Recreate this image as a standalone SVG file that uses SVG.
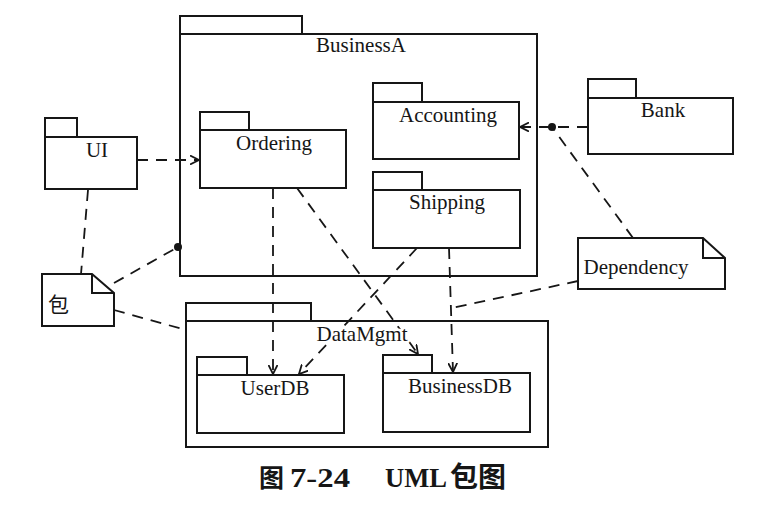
<svg xmlns="http://www.w3.org/2000/svg" width="780" height="518" viewBox="0 0 780 518">
<style>
.pk{fill:none;stroke:#161616;stroke-width:2}
.nt{fill:#fff;stroke:#161616;stroke-width:2;stroke-linejoin:miter}
.fold{fill:none;stroke:#161616;stroke-width:2}
.dash{fill:none;stroke:#161616;stroke-width:1.8;stroke-dasharray:11 8}
.ah{fill:none;stroke:#161616;stroke-width:1.8;stroke-dasharray:none}
.lb{font-family:"Liberation Serif","Times New Roman",serif;font-size:21px;text-anchor:middle;fill:#161616;stroke:#fff;stroke-width:5px;stroke-linejoin:round;paint-order:stroke}
.cj{font-family:"Liberation Serif","Noto Sans CJK SC",serif;fill:#161616}
</style>
<defs>
<marker id="open" markerUnits="userSpaceOnUse" viewBox="0 0 9 10" refX="9" refY="5" markerWidth="9" markerHeight="10" orient="auto">
<path class="ah" d="M0,0.5 L9,5 L0,9.5"/>
</marker>
</defs>
<rect width="780" height="518" fill="#fff"/>

<g id="connectors">
<path class="dash" d="M137,160 H199" marker-end="url(#open)"/>
<path class="dash" d="M273,188 V374" marker-end="url(#open)"/>
<path class="dash" d="M297,188 L418,354" marker-end="url(#open)"/>
<path class="dash" d="M417,248 L299,374" marker-end="url(#open)"/>
<path class="dash" d="M449,248 L453,372" marker-end="url(#open)"/>
<path class="dash" d="M588,127 H520" marker-end="url(#open)"/>
<path class="dash" d="M88,190 L81,274"/>
<path class="dash" d="M114,283 L178,247"/>
<circle cx="178" cy="247" r="4" fill="#161616"/>
<path class="dash" d="M114,310 L186,330"/>
<path class="dash" d="M633,238 L552,127"/>
<circle cx="552" cy="127" r="4" fill="#161616"/>
<path class="dash" d="M578,281 L452,308"/>
</g>

<g id="BusinessA">
<rect class="pk" x="180" y="16" width="122" height="18"/>
<rect class="pk" x="180" y="34" width="357" height="242"/>
<text class="lb" x="361" y="52">BusinessA</text>
</g>
<g id="Ordering">
<rect class="pk" x="200" y="112" width="49" height="18"/>
<rect class="pk" x="200" y="130" width="146" height="58"/>
<text class="lb" x="274" y="150">Ordering</text>
</g>
<g id="Accounting">
<rect class="pk" x="373" y="83" width="49" height="19"/>
<rect class="pk" x="373" y="102" width="146" height="57"/>
<text class="lb" x="448" y="122">Accounting</text>
</g>
<g id="Shipping">
<rect class="pk" x="373" y="172" width="49" height="18"/>
<rect class="pk" x="373" y="190" width="147" height="58"/>
<text class="lb" x="447" y="209">Shipping</text>
</g>
<g id="UI">
<rect class="pk" x="45" y="118" width="32" height="19"/>
<rect class="pk" x="45" y="137" width="92" height="52"/>
<text class="lb" x="97" y="157">UI</text>
</g>
<g id="Bank">
<rect class="pk" x="588" y="79" width="48" height="19"/>
<rect class="pk" x="588" y="98" width="145" height="56"/>
<text class="lb" x="663" y="117">Bank</text>
</g>
<g id="DataMgmt">
<rect class="pk" x="186" y="303" width="125" height="18"/>
<rect class="pk" x="186" y="321" width="362" height="126"/>
<text class="lb" x="362" y="341">DataMgmt</text>
</g>
<g id="UserDB">
<rect class="pk" x="197" y="357" width="50" height="18"/>
<rect class="pk" x="197" y="375" width="147" height="58"/>
<text class="lb" x="275" y="395">UserDB</text>
</g>
<g id="BusinessDB">
<rect class="pk" x="383" y="355" width="49" height="18"/>
<rect class="pk" x="383" y="373" width="147" height="59"/>
<text class="lb" x="460" y="393">BusinessDB</text>
</g>
<g id="note-bao">
<path class="nt" d="M42,274 H92 L114,293 V326 H42 Z"/>
<path class="fold" d="M92,274 V293 H114"/>
<text class="cj" x="48" y="312" font-size="21">包</text>
</g>
<g id="note-dependency">
<path class="nt" d="M578,238 H703 L725,258 V289 H578 Z"/>
<path class="fold" d="M703,238 V258 H725"/>
<text class="lb" x="636" y="274">Dependency</text>
</g>

<text class="cj" y="487" font-size="27" font-weight="bold"><tspan x="259" font-size="25">图</tspan><tspan x="290" textLength="60" lengthAdjust="spacingAndGlyphs">7-24</tspan><tspan x="385" textLength="62" lengthAdjust="spacingAndGlyphs">UML</tspan><tspan x="450" font-size="28">包图</tspan></text>
</svg>
